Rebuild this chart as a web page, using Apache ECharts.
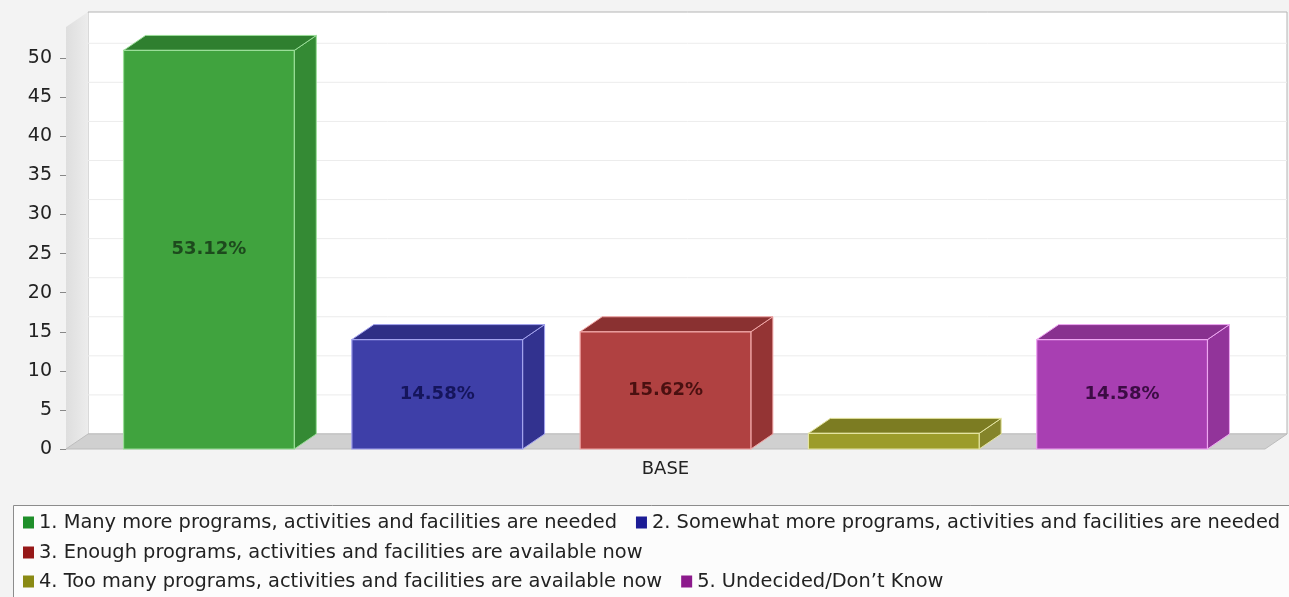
<!DOCTYPE html>
<html><head><meta charset="utf-8">
<script src="https://cdn.jsdelivr.net/npm/echarts@6/dist/echarts.min.js"></script>
<style>html,body{margin:0;padding:0;background:#f3f3f3}#c{width:1289px;height:597px}</style>
</head><body><div id="c"></div>
<script>
// ---- data ----
const categories = ['BASE'];
const seriesNames = [
  '1. Many more programs, activities and facilities are needed',
  '2. Somewhat more programs, activities and facilities are needed',
  '3. Enough programs, activities and facilities are available now',
  '4. Too many programs, activities and facilities are available now',
  '5. Undecided/Don\u2019t Know'
];
const counts = [51, 14, 15, 2, 14];
const percentLabels = ['53.12%', '14.58%', '15.62%', '', '14.58%'];
const yTicks = [0, 5, 10, 15, 20, 25, 30, 35, 40, 45, 50];

// ---- styles ----
const legendColors = ['#1f8f2a', '#1c1c96', '#961818', '#8a8a14', '#8c1a8c'];
const frontColors  = ['#40a33e', '#3e3fa8', '#b04141', '#9c9c2a', '#a83fb2'];
const topColors    = ['#2f7f2f', '#2f2f86', '#8a3131', '#7c7c22', '#88318f'];
const sideColors   = ['#348a34', '#32328f', '#943434', '#84842a', '#92349a'];
const edgeColors   = ['#9ade98', '#a2a2ee', '#f0a6a6', '#e4e4a0', '#eea6f2'];
const labelColors  = ['#1d4a1d', '#15155c', '#4a1010', '#3a3a10', '#3c0c44'];
const DX = 22, DY = 15;
const FONT = 'DejaVu Sans';

function wallsRender(params, api) {
  const cs = params.coordSys;
  const x = cs.x, y = cs.y, w = cs.width, h = cs.height;
  const children = [];
  children.push({type: 'rect', shape: {x: x + DX, y: y - DY, width: w, height: h},
    style: {fill: '#ffffff', stroke: '#b4b4b4', lineWidth: 1}});
  yTicks.forEach(function (v) {
    if (v === 0) return;
    const yy = api.coord([0, v])[1] - DY;
    children.push({type: 'line', shape: {x1: x + DX, y1: yy, x2: x + w + DX, y2: yy},
      style: {stroke: '#ececec', lineWidth: 1}});
  });
  children.push({type: 'polygon', shape: {points: [[x, y], [x + DX, y - DY], [x + DX, y + h - DY], [x, y + h]]},
    style: {fill: new echarts.graphic.LinearGradient(0, 0, 1, 0, [
      {offset: 0, color: '#dedede'}, {offset: 1, color: '#ececec'}])}});
  children.push({type: 'polygon', shape: {points: [[x, y + h], [x + DX, y + h - DY], [x + w + DX, y + h - DY], [x + w, y + h]]},
    style: {fill: '#d0d0d0', stroke: '#bdbdbd', lineWidth: 1}});
  return {type: 'group', children: children};
}

function barRender(i) {
  return function (params, api) {
    const cs = params.coordSys;
    const band = cs.width;
    const m = band * 0.048, bw = band * 0.1424, g = band * 0.048;
    const x0 = cs.x + m + i * (bw + g);
    const yTop = api.coord([0, api.value(1)])[1];
    const yBase = api.coord([0, 0])[1];
    const ch = [];
    ch.push({type: 'polygon', shape: {points: [[x0 + bw, yTop], [x0 + bw + DX, yTop - DY], [x0 + bw + DX, yBase - DY], [x0 + bw, yBase]]},
      style: {fill: sideColors[i], stroke: edgeColors[i], lineWidth: 1}});
    ch.push({type: 'polygon', shape: {points: [[x0, yTop], [x0 + DX, yTop - DY], [x0 + bw + DX, yTop - DY], [x0 + bw, yTop]]},
      style: {fill: topColors[i], stroke: edgeColors[i], lineWidth: 1}});
    ch.push({type: 'rect', shape: {x: x0, y: yTop, width: bw, height: yBase - yTop},
      style: {fill: frontColors[i], stroke: edgeColors[i], lineWidth: 1.2}});
    if (percentLabels[i]) {
      ch.push({type: 'text', style: {text: percentLabels[i], x: x0 + bw / 2, y: (yTop + yBase) / 2,
        align: 'center', verticalAlign: 'middle', fill: labelColors[i],
        font: 'bold 18px "' + FONT + '"'}});
    }
    return {type: 'group', children: ch};
  };
}

const series = [{
  type: 'custom', name: '__walls', renderItem: wallsRender, data: [[0, 0]], z: 1, silent: true, clip: false
}];
seriesNames.forEach(function (n, i) {
  series.push({type: 'custom', name: n, renderItem: barRender(i), data: [[0, counts[i]]],
    itemStyle: {color: legendColors[i]}, z: 2, clip: false});
});

const legendCommon = {
  left: 23, width: 1600, orient: 'horizontal', icon: 'rect', itemWidth: 11, itemHeight: 12, itemGap: 19,
  textStyle: {fontFamily: FONT, fontSize: 19.4, color: '#222'}, padding: 0, selectedMode: false
};

const option = {
  backgroundColor: '#f3f3f3',
  animation: false,
  grid: {left: 66, right: 24, top: 27, bottom: 148},
  xAxis: {type: 'category', data: categories, axisLine: {show: false}, axisTick: {show: false},
    axisLabel: {fontFamily: FONT, fontSize: 18, color: '#222', margin: 11}},
  yAxis: {type: 'value', min: 0, max: 54, interval: 5,
    axisLine: {show: false},
    axisTick: {show: true, length: 6, lineStyle: {color: '#888'}, customValues: yTicks},
    axisLabel: {fontFamily: FONT, fontSize: 19, color: '#222', margin: 14, customValues: yTicks},
    splitLine: {show: false}},
  legend: [
    Object.assign({}, legendCommon, {data: [seriesNames[0], seriesNames[1]], top: 513}),
    Object.assign({}, legendCommon, {data: [seriesNames[2]], top: 543}),
    Object.assign({}, legendCommon, {data: [seriesNames[3], seriesNames[4]], top: 572})
  ],
  graphic: [{type: 'rect', left: 13, top: 505, z: -1, silent: true,
    shape: {width: 1300, height: 100}, style: {fill: '#fcfcfc', stroke: '#8c8c8c', lineWidth: 1}}],
  series: series
};
const chart = echarts.init(document.getElementById('c'));
chart.setOption(option);
</script></body></html>
